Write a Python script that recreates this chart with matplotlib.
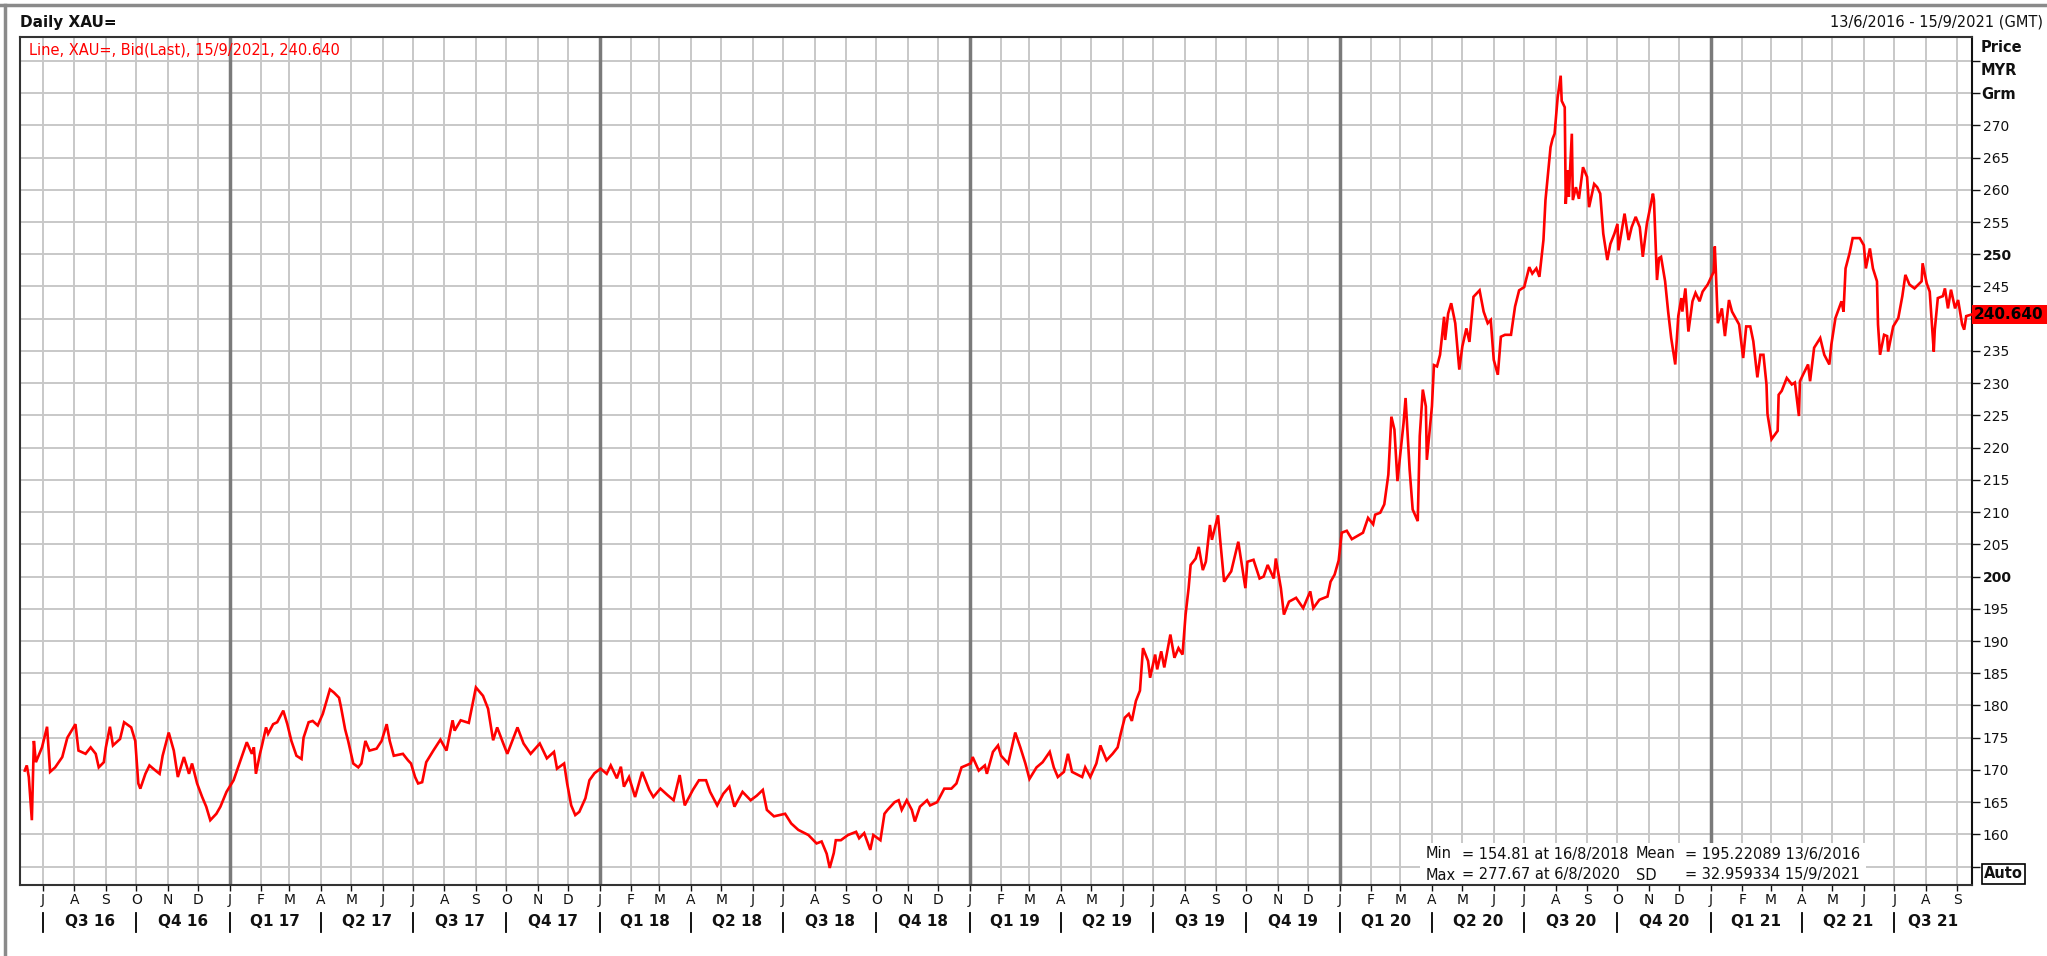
import matplotlib
matplotlib.use('Agg')
import matplotlib.pyplot as plt
import matplotlib.dates as mdates
import matplotlib.transforms as mtransforms
from matplotlib.lines import Line2D
from matplotlib.patches import Rectangle
import pandas as pd

# XAU= daily bid, MYR per gram
days_2016 = ['06-13', '06-15', '06-17', '06-20', '06-22', '06-24', '06-30', '07-05', '07-08', '07-13',
             '07-20', '07-25', '08-02', '08-05', '08-12', '08-17', '08-22', '08-25', '08-30', '09-01',
             '09-05', '09-08', '09-15', '09-19', '09-26', '09-30', '10-03', '10-05', '10-10', '10-14',
             '10-20', '10-24', '10-27', '11-02', '11-07', '11-11', '11-17', '11-22', '11-25', '11-30',
             '12-05', '12-09', '12-13', '12-19', '12-23', '12-29']
price_2016 = [169.9, 170.7, 168.9, 162.2, 174.5, 171.2, 173.5, 176.7, 169.7, 170.4,
              172.0, 175.0, 177.1, 173.0, 172.5, 173.5, 172.5, 170.4, 171.2, 173.5,
              176.7, 173.8, 174.8, 177.4, 176.6, 174.5, 167.9, 167.1, 169.4, 170.7,
              169.9, 169.4, 172.2, 175.8, 173.0, 168.9, 172.0, 169.4, 171.0, 167.9,
              165.8, 164.3, 162.2, 163.2, 164.3, 166.6]

days_2017 = ['01-05', '01-09', '01-13', '01-18', '01-23', '01-25', '01-27', '01-31', '02-02', '02-06',
             '02-08', '02-13', '02-17', '02-23', '02-27', '03-03', '03-08', '03-13', '03-15', '03-20',
             '03-24', '03-29', '04-03', '04-10', '04-14', '04-19', '04-21', '04-25', '04-28', '05-03',
             '05-08', '05-11', '05-15', '05-19', '05-26', '05-31', '06-05', '06-08', '06-12', '06-21',
             '06-26', '06-29', '07-03', '07-06', '07-10', '07-14', '07-21', '07-28', '08-03', '08-09',
             '08-11', '08-17', '08-25', '09-01', '09-08', '09-13', '09-18', '09-22', '09-28', '10-02',
             '10-12', '10-18', '10-25', '11-03', '11-10', '11-17', '11-20', '11-27', '11-30', '12-04',
             '12-08', '12-12', '12-18', '12-22', '12-27']
price_2017 = [168.4, 170.2, 172.0, 174.3, 172.5, 173.5, 169.4, 172.5, 173.8, 176.6,
              175.6, 177.1, 177.4, 179.2, 177.1, 174.5, 172.2, 171.7, 175.0, 177.4,
              177.6, 176.9, 178.7, 182.5, 182.0, 181.2, 179.7, 176.3, 174.5, 171.0,
              170.4, 171.0, 174.5, 173.0, 173.3, 174.5, 177.1, 174.5, 172.2, 172.5,
              171.5, 171.0, 168.9, 167.9, 168.1, 171.2, 173.0, 174.7, 173.0, 177.7,
              176.1, 177.7, 177.3, 182.8, 181.5, 179.5, 174.6, 176.6, 174.1, 172.5,
              176.6, 174.1, 172.5, 174.1, 171.8, 172.8, 170.2, 171.0, 167.9, 164.5,
              163.0, 163.5, 165.6, 168.4, 169.5]

days_2018 = ['01-02', '01-08', '01-12', '01-18', '01-22', '01-25', '01-30', '02-05', '02-12', '02-19',
             '02-23', '03-02', '03-09', '03-15', '03-21', '03-26', '04-03', '04-09', '04-16', '04-20',
             '04-27', '05-03', '05-09', '05-14', '05-22', '05-30', '06-05', '06-11', '06-15', '06-22',
             '07-03', '07-09', '07-16', '07-26', '08-03', '08-08', '08-13', '08-16', '08-20', '08-22',
             '08-27', '09-03', '09-11', '09-14', '09-19', '09-25', '09-28', '10-05', '10-09', '10-12',
             '10-19', '10-23', '10-26', '10-31', '11-05', '11-08', '11-13', '11-20', '11-23', '11-30',
             '12-07', '12-14', '12-19', '12-24']
price_2018 = [170.2, 169.4, 170.7, 168.7, 170.5, 167.4, 168.9, 165.8, 169.7, 166.9,
              165.8, 167.1, 166.1, 165.3, 169.2, 164.5, 166.9, 168.4, 168.4, 166.6,
              164.5, 166.3, 167.4, 164.3, 166.6, 165.3, 166.0, 166.9, 163.8, 162.8,
              163.2, 161.7, 160.7, 159.9, 158.6, 158.9, 157.0, 154.8, 157.1, 159.1,
              159.1, 159.9, 160.4, 159.4, 160.2, 157.6, 159.9, 159.1, 163.2, 163.8,
              165.0, 165.3, 163.8, 165.3, 163.8, 162.0, 164.3, 165.3, 164.5, 165.0,
              167.1, 167.1, 167.9, 170.4]

days_2019 = ['01-02', '01-04', '01-10', '01-16', '01-18', '01-24', '01-29', '02-01', '02-08', '02-15',
             '02-20', '02-25', '03-01', '03-08', '03-14', '03-21', '03-25', '03-29', '04-04', '04-08',
             '04-12', '04-22', '04-25', '04-30', '05-06', '05-10', '05-16', '05-22', '05-27', '05-30',
             '06-03', '06-07', '06-10', '06-14', '06-18', '06-21', '06-26', '06-28', '07-03', '07-05',
             '07-09', '07-12', '07-18', '07-22', '07-26', '07-30', '08-02', '08-05', '08-07', '08-12',
             '08-15', '08-19', '08-22', '08-26', '08-28', '09-03', '09-05', '09-09', '09-16', '09-23',
             '09-30', '10-02', '10-08', '10-14', '10-18', '10-22', '10-28', '10-30', '11-04', '11-07',
             '11-12', '11-19', '11-26', '12-03', '12-06', '12-12', '12-20', '12-23', '12-27', '12-31']
price_2019 = [171.0, 172.0, 169.9, 170.7, 169.4, 172.8, 173.8, 172.2, 171.0, 175.8,
              173.5, 171.0, 168.6, 170.4, 171.2, 172.8, 170.4, 168.9, 169.7, 172.5,
              169.7, 168.9, 170.4, 168.9, 171.0, 173.8, 171.5, 172.5, 173.5, 175.6,
              178.1, 178.7, 177.6, 180.7, 182.3, 188.9, 186.9, 184.3, 187.9, 185.6,
              188.4, 185.9, 191.0, 187.4, 188.9, 187.9, 194.1, 198.2, 201.8, 202.8,
              204.6, 201.0, 202.3, 208.0, 205.7, 209.5, 205.9, 199.2, 200.8, 205.4,
              198.2, 202.3, 202.6, 199.7, 200.0, 201.8, 199.7, 202.8, 198.2, 194.1,
              196.1, 196.7, 195.1, 197.7, 195.1, 196.4, 196.9, 199.2, 200.3, 202.5]

days_2020 = ['01-03', '01-08', '01-13', '01-24', '01-29', '02-03', '02-05', '02-10', '02-14', '02-18',
             '02-21', '02-24', '02-27', '03-02', '03-04', '03-06', '03-10', '03-13', '03-18', '03-20',
             '03-23', '03-26', '03-27', '04-01', '04-03', '04-06', '04-09', '04-13', '04-14', '04-17',
             '04-20', '04-24', '04-28', '05-01', '05-05', '05-08', '05-12', '05-18', '05-22', '05-26',
             '05-29', '06-01', '06-05', '06-08', '06-12', '06-18', '06-22', '06-26', '07-01', '07-06',
             '07-09', '07-13', '07-16', '07-20', '07-22', '07-27', '07-29', '07-31', '08-03', '08-06',
             '08-07', '08-10', '08-11', '08-13', '08-14', '08-17', '08-18', '08-21', '08-24', '08-28',
             '09-01', '09-03', '09-08', '09-11', '09-14', '09-17', '09-21', '09-24', '09-28', '10-01',
             '10-02', '10-08', '10-12', '10-15', '10-19', '10-23', '10-26', '10-30', '11-05', '11-06',
             '11-09', '11-11', '11-13', '11-17', '11-20', '11-23', '11-27', '11-30', '12-03', '12-04',
             '12-07', '12-10', '12-14', '12-17', '12-21', '12-24', '12-29']
price_2020 = [206.8, 207.1, 205.8, 206.8, 209.1, 208.1, 209.6, 209.9, 211.2, 215.8,
              224.8, 222.8, 214.8, 220.7, 223.8, 227.7, 216.6, 210.4, 208.6, 221.8,
              229.0, 226.4, 218.1, 226.4, 232.8, 232.6, 234.4, 240.3, 236.7, 240.8,
              242.4, 239.3, 232.1, 235.7, 238.5, 236.4, 243.4, 244.4, 241.1, 239.3,
              239.8, 233.6, 231.3, 237.2, 237.5, 237.5, 241.9, 244.4, 244.9, 248.0,
              247.0, 247.8, 246.5, 252.2, 258.4, 266.6, 267.9, 268.7, 274.3, 277.7,
              273.8, 272.8, 257.8, 263.0, 258.9, 268.7, 258.4, 260.4, 258.6, 263.5,
              262.0, 257.3, 260.9, 260.4, 259.4, 253.2, 249.1, 251.6, 253.2, 254.7,
              250.6, 256.3, 252.2, 254.2, 255.8, 254.2, 249.6, 254.7, 259.4, 258.4,
              246.0, 249.4, 249.6, 245.8, 241.1, 237.0, 232.9, 240.4, 243.2, 241.1,
              244.7, 238.0, 242.7, 244.0, 242.7, 244.2, 245.3]

days_2021 = ['01-04', '01-05', '01-06', '01-08', '01-12', '01-15', '01-19', '01-22', '01-29', '02-02',
             '02-05', '02-09', '02-12', '02-16', '02-19', '02-22', '02-25', '02-26', '03-02', '03-08',
             '03-09', '03-12', '03-17', '03-22', '03-25', '03-29', '03-30', '04-02', '04-07', '04-09',
             '04-13', '04-19', '04-23', '04-28', '04-30', '05-04', '05-10', '05-12', '05-14', '05-18',
             '05-21', '05-28', '06-01', '06-03', '06-07', '06-10', '06-14', '06-15', '06-17', '06-21',
             '06-24', '06-25', '06-30', '07-05', '07-09', '07-12', '07-16', '07-21', '07-28', '07-29',
             '08-02', '08-05', '08-09', '08-10', '08-13', '08-18', '08-20', '08-23', '08-26', '08-30',
             '09-02', '09-06', '09-08', '09-10', '09-15']
price_2021 = [247.3, 251.2, 247.6, 239.3, 241.6, 237.3, 242.9, 241.1, 239.1, 233.9,
              238.8, 238.8, 236.5, 230.9, 234.4, 234.4, 229.8, 225.2, 221.3, 222.6,
              228.2, 228.8, 230.8, 229.8, 230.1, 224.9, 230.3, 231.3, 232.9, 230.3,
              235.5, 237.0, 234.4, 232.9, 236.0, 240.1, 242.7, 241.1, 247.8, 250.2,
              252.5, 252.5, 251.4, 247.8, 250.9, 247.8, 245.8, 239.1, 234.4, 237.5,
              237.3, 234.9, 238.8, 240.1, 243.5, 246.8, 245.3, 244.7, 245.8, 248.6,
              245.5, 244.2, 234.9, 238.3, 243.2, 243.5, 244.7, 241.6, 244.5, 241.6,
              242.9, 239.1, 238.3, 240.4, 240.64]

y_ticks = list(range(155, 285, 5))
y_labelled = [v for v in range(160, 275, 5) if v != 240]  # 240 sits under the last-price tag
month_letters = ['J', 'F', 'M', 'A', 'M', 'J', 'J', 'A', 'S', 'O', 'N', 'D']
last_price = '240.640'
stats_left = ['Min', 'Max']
stats_left_val = ['= 154.81 at 16/8/2018', '= 277.67 at 6/8/2020']
stats_right = ['Mean', 'SD']
stats_right_val = ['= 195.22089 13/6/2016', '= 32.959334 15/9/2021']

W, H = 2047, 956


def fx(px):
    return px / W


def fy(py):
    return 1 - py / H


def build_series():
    parts = [(2016, days_2016, price_2016), (2017, days_2017, price_2017),
             (2018, days_2018, price_2018), (2019, days_2019, price_2019),
             (2020, days_2020, price_2020), (2021, days_2021, price_2021)]
    dates, prices = [], []
    for yr, dd, pp in parts:
        dates += [f'{yr}-{d}' for d in dd]
        prices += pp
    return pd.to_datetime(dates), prices


dates, prices = build_series()

fig = plt.figure(figsize=(W / 100, H / 100), dpi=100)
fig.patch.set_facecolor('white')
ax = fig.add_axes([fx(19.6), fy(885), fx(1971.7) - fx(19.6), fy(37) - fy(885)])

x0 = pd.Timestamp('2016-06-07 22:00')
x1 = pd.Timestamp('2021-09-15 10:00')
ax.set_xlim(x0, x1)
ax.set_ylim(152.15, 283.7)

# month ticks / grid
months = pd.date_range('2016-07-01', '2021-09-01', freq='MS')
ax.set_xticks(months)
ax.set_xticklabels([month_letters[m.month - 1] for m in months])
ax.set_yticks(y_ticks)
ax.set_yticklabels([str(v) if v in y_labelled else '' for v in y_ticks])
ax.yaxis.tick_right()
ax.grid(True, color='#c8c8c8', linewidth=1.4)
ax.set_axisbelow(True)
ax.tick_params(axis='x', direction='out', length=4, width=1, pad=1.5, labelsize=10, colors='#111111')
ax.tick_params(axis='y', direction='out', length=6, width=1, pad=2, labelsize=10, colors='#111111')
for lab in ax.get_yticklabels():
    if lab.get_text() in ('200', '250'):
        lab.set_fontweight('bold')

for s in ['top', 'left', 'bottom']:
    ax.spines[s].set_color('#333333')
    ax.spines[s].set_linewidth(1.5)
ax.spines['right'].set_color('#111111')
ax.spines['right'].set_linewidth(1.5)

# year separators
for yr in range(2017, 2022):
    ax.axvline(pd.Timestamp(f'{yr}-01-01'), color='#7a7a7a', linewidth=2.5, zorder=1)

ax.plot(dates, prices, color='#ff0000', linewidth=1.9, zorder=4, solid_joinstyle='miter')

# quarter row
tr_q = mtransforms.blended_transform_factory(ax.transData, fig.transFigure)
qstarts = pd.date_range('2016-07-01', '2021-07-01', freq='QS')
for q in qstarts:
    qn = mdates.date2num(q)
    ax.add_line(Line2D([qn, qn], [fy(913), fy(932)], transform=tr_q, color='black',
                       linewidth=1.3, clip_on=False))
    qend = min(q + pd.DateOffset(months=3), x1)
    mid = mdates.date2num(q) + (mdates.date2num(qend) - mdates.date2num(q)) / 2
    ax.text(mid, fy(922), f'Q{(q.month - 1) // 3 + 1} {q.year % 100:02d}', transform=tr_q,
            ha='center', va='center', fontsize=11, fontweight='bold', color='#111111')

# stats box
ax.add_patch(Rectangle((fx(1420), fy(884)), fx(1866) - fx(1420), fy(843) - fy(884),
                       transform=fig.transFigure, facecolor='white', edgecolor='none', zorder=2))
for i, yy in enumerate([854, 875]):
    fig.text(fx(1426), fy(yy), stats_left[i], fontsize=10.5, va='center', color='#111111')
    fig.text(fx(1462), fy(yy), stats_left_val[i], fontsize=10.5, va='center', color='#111111')
    fig.text(fx(1636), fy(yy), stats_right[i], fontsize=10.5, va='center', color='#111111')
    fig.text(fx(1685), fy(yy), stats_right_val[i], fontsize=10.5, va='center', color='#111111')

# last price marker on the axis
tr_p = mtransforms.blended_transform_factory(fig.transFigure, ax.transData)
ax.add_patch(Rectangle((fx(1972), prices[-1] - 1.48), fx(2047) - fx(1972), 2.96,
                       transform=tr_p, facecolor='#ff0000', edgecolor='none', clip_on=False, zorder=5))
ax.text(fx(1974), prices[-1], last_price, transform=tr_p, ha='left', va='center',
        fontsize=11, fontweight='bold', color='black', zorder=6, clip_on=False)

# header texts
fig.text(fx(20), fy(22), 'Daily XAU=', fontsize=11, fontweight='bold', va='center', color='#111111')
fig.text(fx(2043), fy(22), '13/6/2016 - 15/9/2021 (GMT)', fontsize=10.5, ha='right', va='center',
         color='#111111')
fig.text(fx(29), fy(50), 'Line, XAU=, Bid(Last), 15/9/2021, 240.640', fontsize=10.5, va='center',
         color='#ff0000')
for txt, yy in [('Price', 47), ('MYR', 70.5), ('Grm', 94)]:
    fig.text(fx(1981), fy(yy), txt, fontsize=10.5, fontweight='bold', va='center', color='#111111')
fig.text(fx(1984), fy(874), 'Auto', fontsize=10.5, fontweight='bold', va='center', color='#111111',
         bbox=dict(boxstyle='square,pad=0.15', facecolor='white', edgecolor='black', linewidth=1.2))

# window border
fig.add_artist(Line2D([0, 1], [fy(4.5), fy(4.5)], transform=fig.transFigure, color='#8a8a8a', linewidth=2.5))
fig.add_artist(Line2D([fx(5), fx(5)], [0, fy(4.5)], transform=fig.transFigure, color='#8a8a8a', linewidth=2.5))

fig.savefig('out.png', dpi=100)
